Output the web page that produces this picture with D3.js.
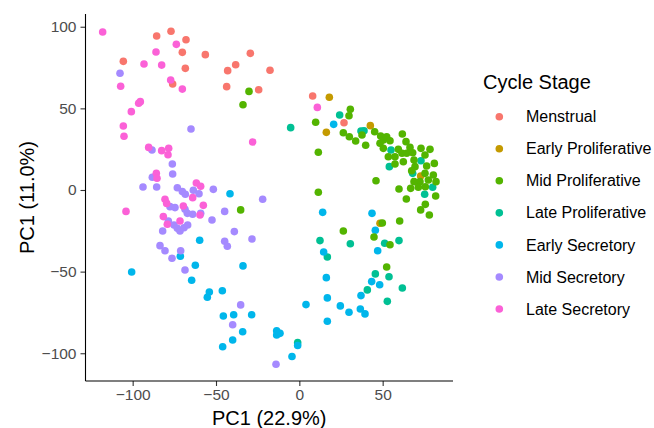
<!DOCTYPE html>
<html>
<head>
<meta charset="utf-8">
<script src="https://cdn.jsdelivr.net/npm/d3@7"></script>
<style>
  body { margin: 0; background: #fff; }
  svg { font-family: "Liberation Sans", Arial, sans-serif; }
</style>
</head>
<body>
<svg id="chart" width="654" height="428"></svg>
<script>
// PCA scores per cycle stage, [PC1, PC2]
var stages = ['Menstrual', 'Early Proliferative', 'Mid Proliferative', 'Late Proliferative',
  'Early Secretory', 'Mid Secretory', 'Late Secretory']
var stageColors = ['#F8766D', '#C49A00', '#53B400', '#00C094', '#00B6EB', '#A58AFF', '#FB61D7']

var menstrual = [[-85.6, 94.3], [-77, 97.2], [-68, 92], [-70.2, 84.3], [-56.4, 82.9], [-105.6, 78.8],
  [-38.2, 76.7], [-43, 73.1], [-29.4, 83.7], [-17.6, 73.3], [-68.4, 74.5], [-76, 64.9], [-43.6, 63.3],
  [-24.4, 61.4], [8, 57.6], [26.8, 41.2]]

var earlyProliferative = [[18, 56.8], [16.2, 35.3], [42.6, 39.4], [72.8, 8.6], [48.4, -20.4]]

var midProliferative = [[-30.2, 60.4], [-33.8, 52.2], [-35.2, -12.2], [30.6, 49.4], [29.8, 45.5],
  [9.8, 41.5], [26.4, 35.1], [30, 32.6], [33.8, 30], [37.6, 33.7], [39.8, 27.4], [45.2, 35.7],
  [11.4, 23.1], [11.4, -1.4], [46, 5.7], [26.4, -25.1], [49.8, -20.2], [60.2, -19], [59.8, 0.6],
  [64.2, -5.5], [72.8, -12.2], [75.6, -8.8], [78, -15.3], [61.8, 34.3], [81.8, -3.7], [48.8, 33.1],
  [50.4, 30.6], [52.4, 32.6], [48.4, 28.6], [54.4, 30.2], [50.4, 25.5], [53.4, 20.4], [64, 29.6],
  [66.4, 26.1], [59.4, 24.9], [61.6, 22.5], [57.4, 20.4], [64.4, 22.5], [68, 22.8], [73, 25.5],
  [78.4, 24.9], [75.4, 21.4], [68.8, 18.4], [62.4, 17.3], [57.4, 15.9], [81, 16.3], [76.4, 14.7],
  [69.4, 14.3], [67.4, 11.8], [75.4, 10.2], [80.4, 9.2], [82, 5.1], [77.4, 6.1], [72.4, 5.1],
  [68.8, 5.1], [71.4, 1.7], [66.8, 1], [75.6, 2], [44.8, -28.8], [54.4, -33.5], [52.4, -47.2]]

var lateProliferative = [[-5.2, 38.2], [24.2, 45.9], [37, 36.1], [38.8, 36.3], [55, 24.5], [54, 14.3],
  [73, 17.9], [68, 10.2], [75.2, -2.6], [80, 1.7], [12.4, -31], [30.6, -32.9], [16.8, -41],
  [51.2, -32.6], [59.8, -31], [45.6, -51.4], [53.8, -53.1], [61.8, -60], [40.8, -61.2],
  [52.8, -68.2], [-1, -93.5]]

var earlySecretory = [[-41.6, -2.3], [-59.8, -30.8], [-71.4, -40.6], [-100.6, -50.2], [-62.4, -46.1],
  [-33.8, -46.5], [-64.6, -55.3], [-54, -62.5], [-55.2, -65.7], [-46.2, -61.7], [-45.6, -77.2],
  [-39.4, -76.4], [-28.6, -76.4], [-34, -86.8], [-40, -91.9], [-46, -96], [-13.6, -86.2],
  [-11.6, -87.8], [-13.6, -88.8], [-1, -95.3], [-4.4, -102], [4, -70.2], [20.6, 40.2], [14, -13.7],
  [43.6, -14.3], [45.6, -24.7], [14.6, -38], [47, -37.2], [43.4, -56.1], [48.2, -58], [37, -64.7],
  [16.2, -53.7], [16.8, -66.1], [24.6, -71], [29.8, -74.9], [36.6, -72.9], [39.4, -75.9], [16.8, -80.4]]

var midSecretory = [[-107.6, 71.5], [-65, 37.4], [-88.4, 24.5], [-76.2, 15.9], [-76, 9.8], [-88.2, 7.8],
  [-93.8, 1.8], [-85.6, 1.8], [-73.2, 1.4], [-70.2, -1], [-68.4, -2.6], [-63.6, -0.2], [-60.2, -2.3],
  [-51.6, 0.4], [-22, -5.7], [-77.6, -10.2], [-74.6, -10.8], [-68.6, -11.8], [-67.2, -14.3],
  [-64, -14.9], [-59.2, -14.3], [-52.4, -18.4], [-44.8, -13.1], [-78.6, -19], [-75.2, -21.4],
  [-73.2, -23.5], [-71.6, -25.1], [-69.2, -23.1], [-67, -21.4], [-82, -25.1], [-39, -25.5],
  [-28.4, -30], [-44.8, -31.4], [-43.2, -34.5], [-83.6, -34.1], [-80.6, -37.2], [-71.2, -37.2],
  [-76.4, -41.8], [-68.6, -49], [-35.2, -70.4], [-40, -82.5], [-14, -106.7]]

var lateSecretory = [[-118, 96.8], [-86, 84.5], [-73.8, 89.2], [-93.2, 77.2], [-82.6, 76.5],
  [-77.2, 67.4], [-70.2, 61.8], [-107.2, 63.5], [-95.4, 54.1], [-96.4, 53.1], [-100.8, 48],
  [-105.6, 39.2], [-105.2, 32.9], [-28, 29.4], [-90.4, 26.1], [-82.6, 24.1], [-78.4, 25.5],
  [-78.8, 21.6], [-85.8, 10.2], [-85.4, 7.2], [-61.8, 4.3], [-59.2, 2.3], [-64, -4.7], [-80.6, -5.7],
  [-104, -13.1], [-79.6, -8.2], [-81.6, -16.3], [-79.2, -21], [-71.6, -19], [-69.6, -9.8],
  [-57.6, -9.4], [-59.6, -15.3], [10.8, 50.6]]

var xTicks = [-100, -50, 0, 50]
var yTicks = [-100, -50, 0, 50, 100]

var seriesByStage = [menstrual, earlyProliferative, midProliferative, lateProliferative,
  earlySecretory, midSecretory, lateSecretory]
// drawing order so the green cluster sits on top like the original
var drawOrder = [0, 1, 3, 4, 5, 6, 2]

var svg = d3.select('#chart')
var panel = { left: 85.5, right: 453, top: 14, bottom: 381 }

var x = d3.scaleLinear().domain([-128.3, 92.2]).range([panel.left, panel.right])
var y = d3.scaleLinear().domain([-117, 107.8]).range([panel.bottom, panel.top])

var color = d3.scaleOrdinal().domain(stages).range(stageColors)

var minus = function (d) { return d3.format('')(d).replace('-', '\u2212') }

// points
drawOrder.forEach(function (i) {
  svg.append('g')
    .selectAll('circle')
    .data(seriesByStage[i])
    .enter()
    .append('circle')
    .attr('cx', function (d) { return x(d[0]) })
    .attr('cy', function (d) { return y(d[1]) })
    .attr('r', 3.8)
    .attr('fill', color(stages[i]))
})

// axes
var xAxis = svg.append('g')
  .attr('transform', 'translate(0,' + panel.bottom + ')')
  .call(d3.axisBottom(x).tickValues(xTicks).tickSize(5).tickPadding(3).tickFormat(minus))

var yAxis = svg.append('g')
  .attr('transform', 'translate(' + panel.left + ',0)')
  .call(d3.axisLeft(y).tickValues(yTicks).tickSize(5).tickPadding(4).tickFormat(minus))

;[xAxis, yAxis].forEach(function (ax) {
  ax.select('.domain').remove()
  ax.selectAll('.tick line').attr('stroke', '#333').attr('stroke-width', 1.1)
  ax.selectAll('.tick text').attr('fill', '#4D4D4D').style('font-size', '15.5px')
    .style('font-family', '"Liberation Sans", Arial, sans-serif')
})

// full-length axis lines
svg.append('line')
  .attr('x1', panel.left).attr('x2', panel.right)
  .attr('y1', panel.bottom).attr('y2', panel.bottom)
  .attr('stroke', '#000').attr('stroke-width', 1.1)
svg.append('line')
  .attr('x1', panel.left).attr('x2', panel.left)
  .attr('y1', panel.top).attr('y2', panel.bottom)
  .attr('stroke', '#000').attr('stroke-width', 1.1)

// axis titles
svg.append('text')
  .attr('x', (panel.left + panel.right) / 2)
  .attr('y', 425)
  .attr('text-anchor', 'middle')
  .style('font-size', '20px')
  .text('PC1 (22.9%)')

svg.append('text')
  .attr('transform', 'translate(33.5,' + (panel.top + panel.bottom) / 2 + ') rotate(-90)')
  .attr('text-anchor', 'middle')
  .style('font-size', '20px')
  .text('PC1 (11.0%)')

// legend
var legend = svg.append('g')

legend.append('text')
  .attr('x', 483)
  .attr('y', 89)
  .style('font-size', '20px')
  .text('Cycle Stage')

var items = legend.selectAll('g.item')
  .data(stages)
  .enter()
  .append('g')
  .attr('class', 'item')
  .attr('transform', function (d, i) { return 'translate(499.3,' + (116.7 + i * 32.05) + ')' })

items.append('circle')
  .attr('r', 3.8)
  .attr('fill', function (d) { return color(d) })

items.append('text')
  .attr('x', 26.7)
  .attr('y', 5.6)
  .style('font-size', '16px')
  .text(function (d) { return d })
</script>
</body>
</html>
